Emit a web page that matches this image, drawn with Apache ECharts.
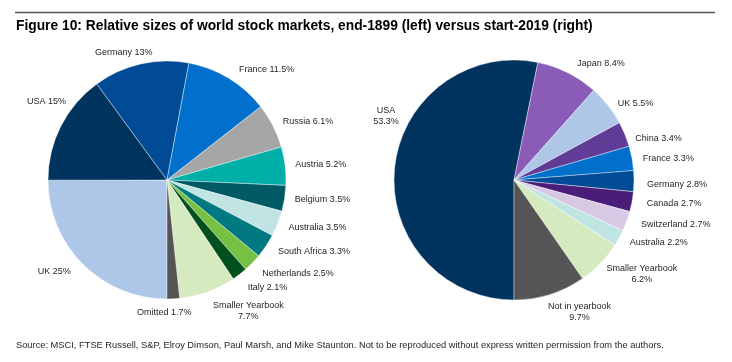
<!DOCTYPE html>
<html>
<head>
<meta charset="utf-8">
<script src="https://cdn.jsdelivr.net/npm/echarts@6/dist/echarts.min.js"></script>
<style>
html,body{margin:0;padding:0;background:#fff;}
#chart{width:732px;height:362px;}
</style>
</head>
<body>
<div id="chart"></div>
<script>
// ---- data ----
const titleText = 'Figure 10: Relative sizes of world stock markets, end-1899 (left) versus start-2019 (right)';
const sourceText = 'Source: MSCI, FTSE Russell, S&P, Elroy Dimson, Paul Marsh, and Mike Staunton. Not to be reproduced without express written permission from the authors.';

const leftNames = ['UK', 'USA', 'Germany', 'France', 'Russia', 'Austria', 'Belgium', 'Australia', 'South Africa', 'Netherlands', 'Italy', 'Smaller Yearbook', 'Omitted'];
const leftValues = [25, 15, 13, 11.5, 6.1, 5.2, 3.5, 3.5, 3.3, 2.5, 2.1, 7.7, 1.7];

const rightNames = ['USA', 'Japan', 'UK', 'China', 'France', 'Germany', 'Canada', 'Switzerland', 'Australia', 'Smaller Yearbook', 'Not in yearbook'];
const rightValues = [53.3, 8.4, 5.5, 3.4, 3.3, 2.8, 2.7, 2.7, 2.2, 6.2, 9.7];

const wrapNames = ['Smaller Yearbook', 'Not in yearbook'];
const rightWrapNames = ['USA', 'Smaller Yearbook', 'Not in yearbook'];

// ---- styles ----
const leftColors = ['#AEC7E8', '#00345F', '#004A96', '#0070CC', '#A6A6A6', '#00B0A8', '#005A64', '#C0E4E4', '#007A80', '#76C043', '#00501E', '#D6EAC0', '#555555'];
const rightColors = ['#00345F', '#8A5CB8', '#AEC7E8', '#603C96', '#0070CC', '#004A96', '#4A1E78', '#D8C8E4', '#C0E4E4', '#D6EAC0', '#555555'];

// label nudges (pixels) to mimic the original's label placement
const leftNudge = { 'USA': [18, -20], 'Germany': [19, -2], 'Italy': [-7, 5], 'Netherlands': [-4, 4], 'Smaller Yearbook': [-19, 10], 'Omitted': [-42, -7] };
const rightNudge = { 'USA': [19, -51], 'UK': [-3, 4], 'China': [-4, 8], 'France': [-4, 2], 'Germany': [-2, 3], 'Australia': [-3, 0], 'Smaller Yearbook': [-6, 4], 'Not in yearbook': [-10, 8] };

const FONT = '"Liberation Sans", Arial, sans-serif';

function makeData(names, values, colors) {
  return names.map((n, i) => ({ name: n, value: values[i], itemStyle: { color: colors[i] } }));
}
function makeFormatter(wraps) {
  return function (p) {
    const sep = wraps.indexOf(p.name) >= 0 ? '\n' : ' ';
    return (p.name + sep + p.value + '%').split('\n').map(s => '{c|' + s + '}').join('\n');
  };
}
function makeLayout(names, nudge) {
  return function (params) {
    const n = nudge[names[params.dataIndex]];
    return n ? { dx: n[0], dy: n[1] } : {};
  };
}
const labelBase = {
  show: true,
  position: 'outside',
  overflow: 'none',
  color: '#262626',
  fontFamily: FONT,
  fontSize: 9,
  lineHeight: 11,
  rich: { c: { align: 'center', fontFamily: FONT, fontSize: 9, lineHeight: 11, color: '#262626' } }
};

const chart = echarts.init(document.getElementById('chart'), null, { renderer: 'canvas' });
chart.setOption({
  animation: false,
  backgroundColor: '#fff',
  title: [
    { text: titleText, left: 16, top: 19, padding: 0, textStyle: { fontFamily: FONT, fontSize: 13.8, fontWeight: 'bold', color: '#000' } },
    { text: sourceText, left: 16, top: 341, padding: 0, textStyle: { fontFamily: FONT, fontSize: 9.3, fontWeight: 'normal', color: '#262626' } }
  ],
  graphic: [
    { type: 'line', shape: { x1: 15, y1: 12.5, x2: 715, y2: 12.5 }, style: { stroke: '#555', lineWidth: 1.6 } }
  ],
  series: [
    {
      type: 'pie',
      center: [167, 180],
      radius: 119,
      startAngle: -90,
      clockwise: true,
      avoidLabelOverlap: true,
      itemStyle: { borderColor: '#fff', borderWidth: 0.4 },
      label: Object.assign({}, labelBase, { formatter: makeFormatter(wrapNames) }),
      labelLine: { show: false, length: 10, length2: 0 },
      labelLayout: makeLayout(leftNames, leftNudge),
      data: makeData(leftNames, leftValues, leftColors)
    },
    {
      type: 'pie',
      center: [514, 180],
      radius: 120,
      startAngle: -90,
      clockwise: true,
      avoidLabelOverlap: true,
      itemStyle: { borderColor: '#fff', borderWidth: 0.4 },
      label: Object.assign({}, labelBase, { formatter: makeFormatter(rightWrapNames) }),
      labelLine: { show: false, length: 10, length2: 0 },
      labelLayout: makeLayout(rightNames, rightNudge),
      data: makeData(rightNames, rightValues, rightColors)
    }
  ]
});
</script>
</body>
</html>
